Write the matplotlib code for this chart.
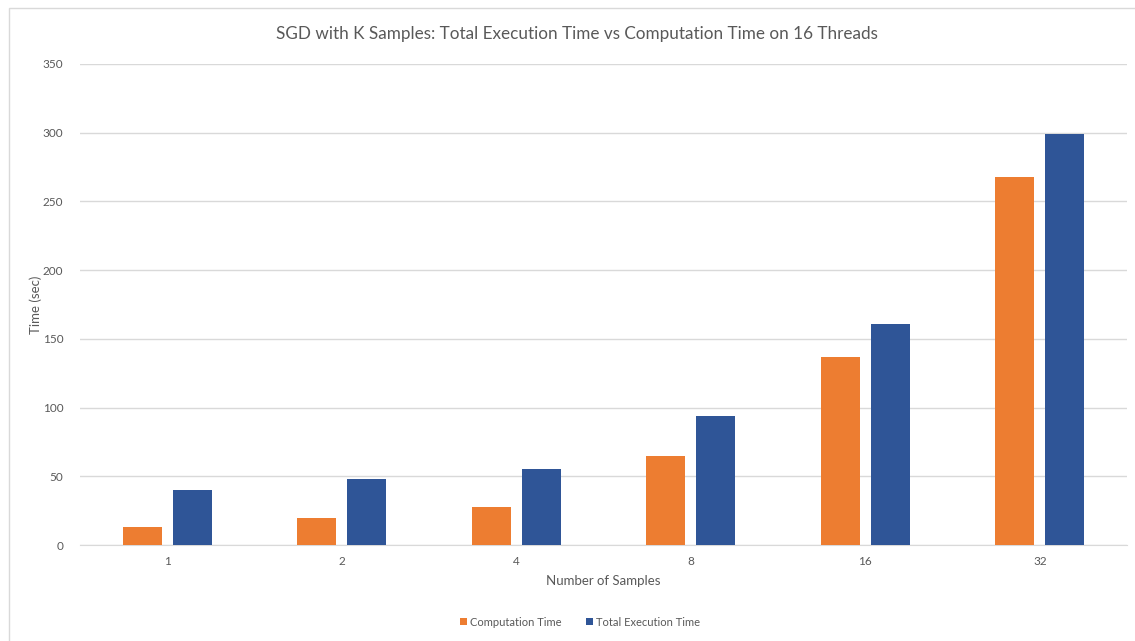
import matplotlib
matplotlib.use("Agg")
import matplotlib.pyplot as plt
import numpy as np
from matplotlib.patches import Rectangle

categories = ["1", "2", "4", "8", "16", "32"]
computation_time = [13, 20, 28, 65, 137, 268]
total_time = [40, 48, 55, 94, 161, 299]
yticks = [0, 50, 100, 150, 200, 250, 300, 350]

plt.rcParams['font.family'] = ['Lato', 'DejaVu Sans']

fig = plt.figure(figsize=(11.35, 6.41), dpi=100)
ax = fig.add_axes([80/1135, 1 - 545/641, (1127-80)/1135, (545-64)/641])

x = np.arange(len(categories))
w = 0.224
off = 0.143
orange = "#ED7D31"
blue = "#2F5597"
ax.bar(x - off, computation_time, w, color=orange, label="Computation Time", zorder=3)
ax.bar(x + off, total_time, w, color=blue, label="Total Execution Time", zorder=3)

ax.set_xlim(-0.5, len(categories) - 0.5)
ax.set_ylim(0, 350)
ax.set_yticks(yticks)
ax.set_xticks(x)
ax.set_xticklabels(categories)
ax.yaxis.grid(True, color="#d9d9d9", linewidth=1, zorder=0)
for s in ["top", "right", "left"]:
    ax.spines[s].set_visible(False)
ax.spines["bottom"].set_color("#d9d9d9")
ax.tick_params(axis="both", length=0, colors="#595959", labelsize=8.5)
ax.tick_params(axis="y", pad=12)
ax.tick_params(axis="x", pad=8)

ax.set_xlabel("Number of Samples", fontsize=9.5, color="#595959", labelpad=6)
ax.set_ylabel("Time (sec)", fontsize=9.5, color="#595959", labelpad=-4)
ax.yaxis.set_label_coords(-38/1047, 0.5)
fig.text(577/1135, 1 - 34/641, "SGD with K Samples: Total Execution Time vs Computation Time on 16 Threads",
         ha="center", va="center", fontsize=12.3, color="#595959")

leg = fig.legend(loc="center", bbox_to_anchor=(580/1135, 1 - 622/641), ncol=2, frameon=False,
                 fontsize=8, handlelength=0.6, handleheight=0.6, handletextpad=0.3,
                 columnspacing=2.2, labelcolor="#595959")

fig.patches.append(Rectangle((9/1135, -0.1), 1.2, 1 - 8/641 + 0.1, transform=fig.transFigure,
                             fill=False, edgecolor="#d9d9d9", linewidth=1))

fig.savefig("out.png", dpi=100, facecolor="white")
